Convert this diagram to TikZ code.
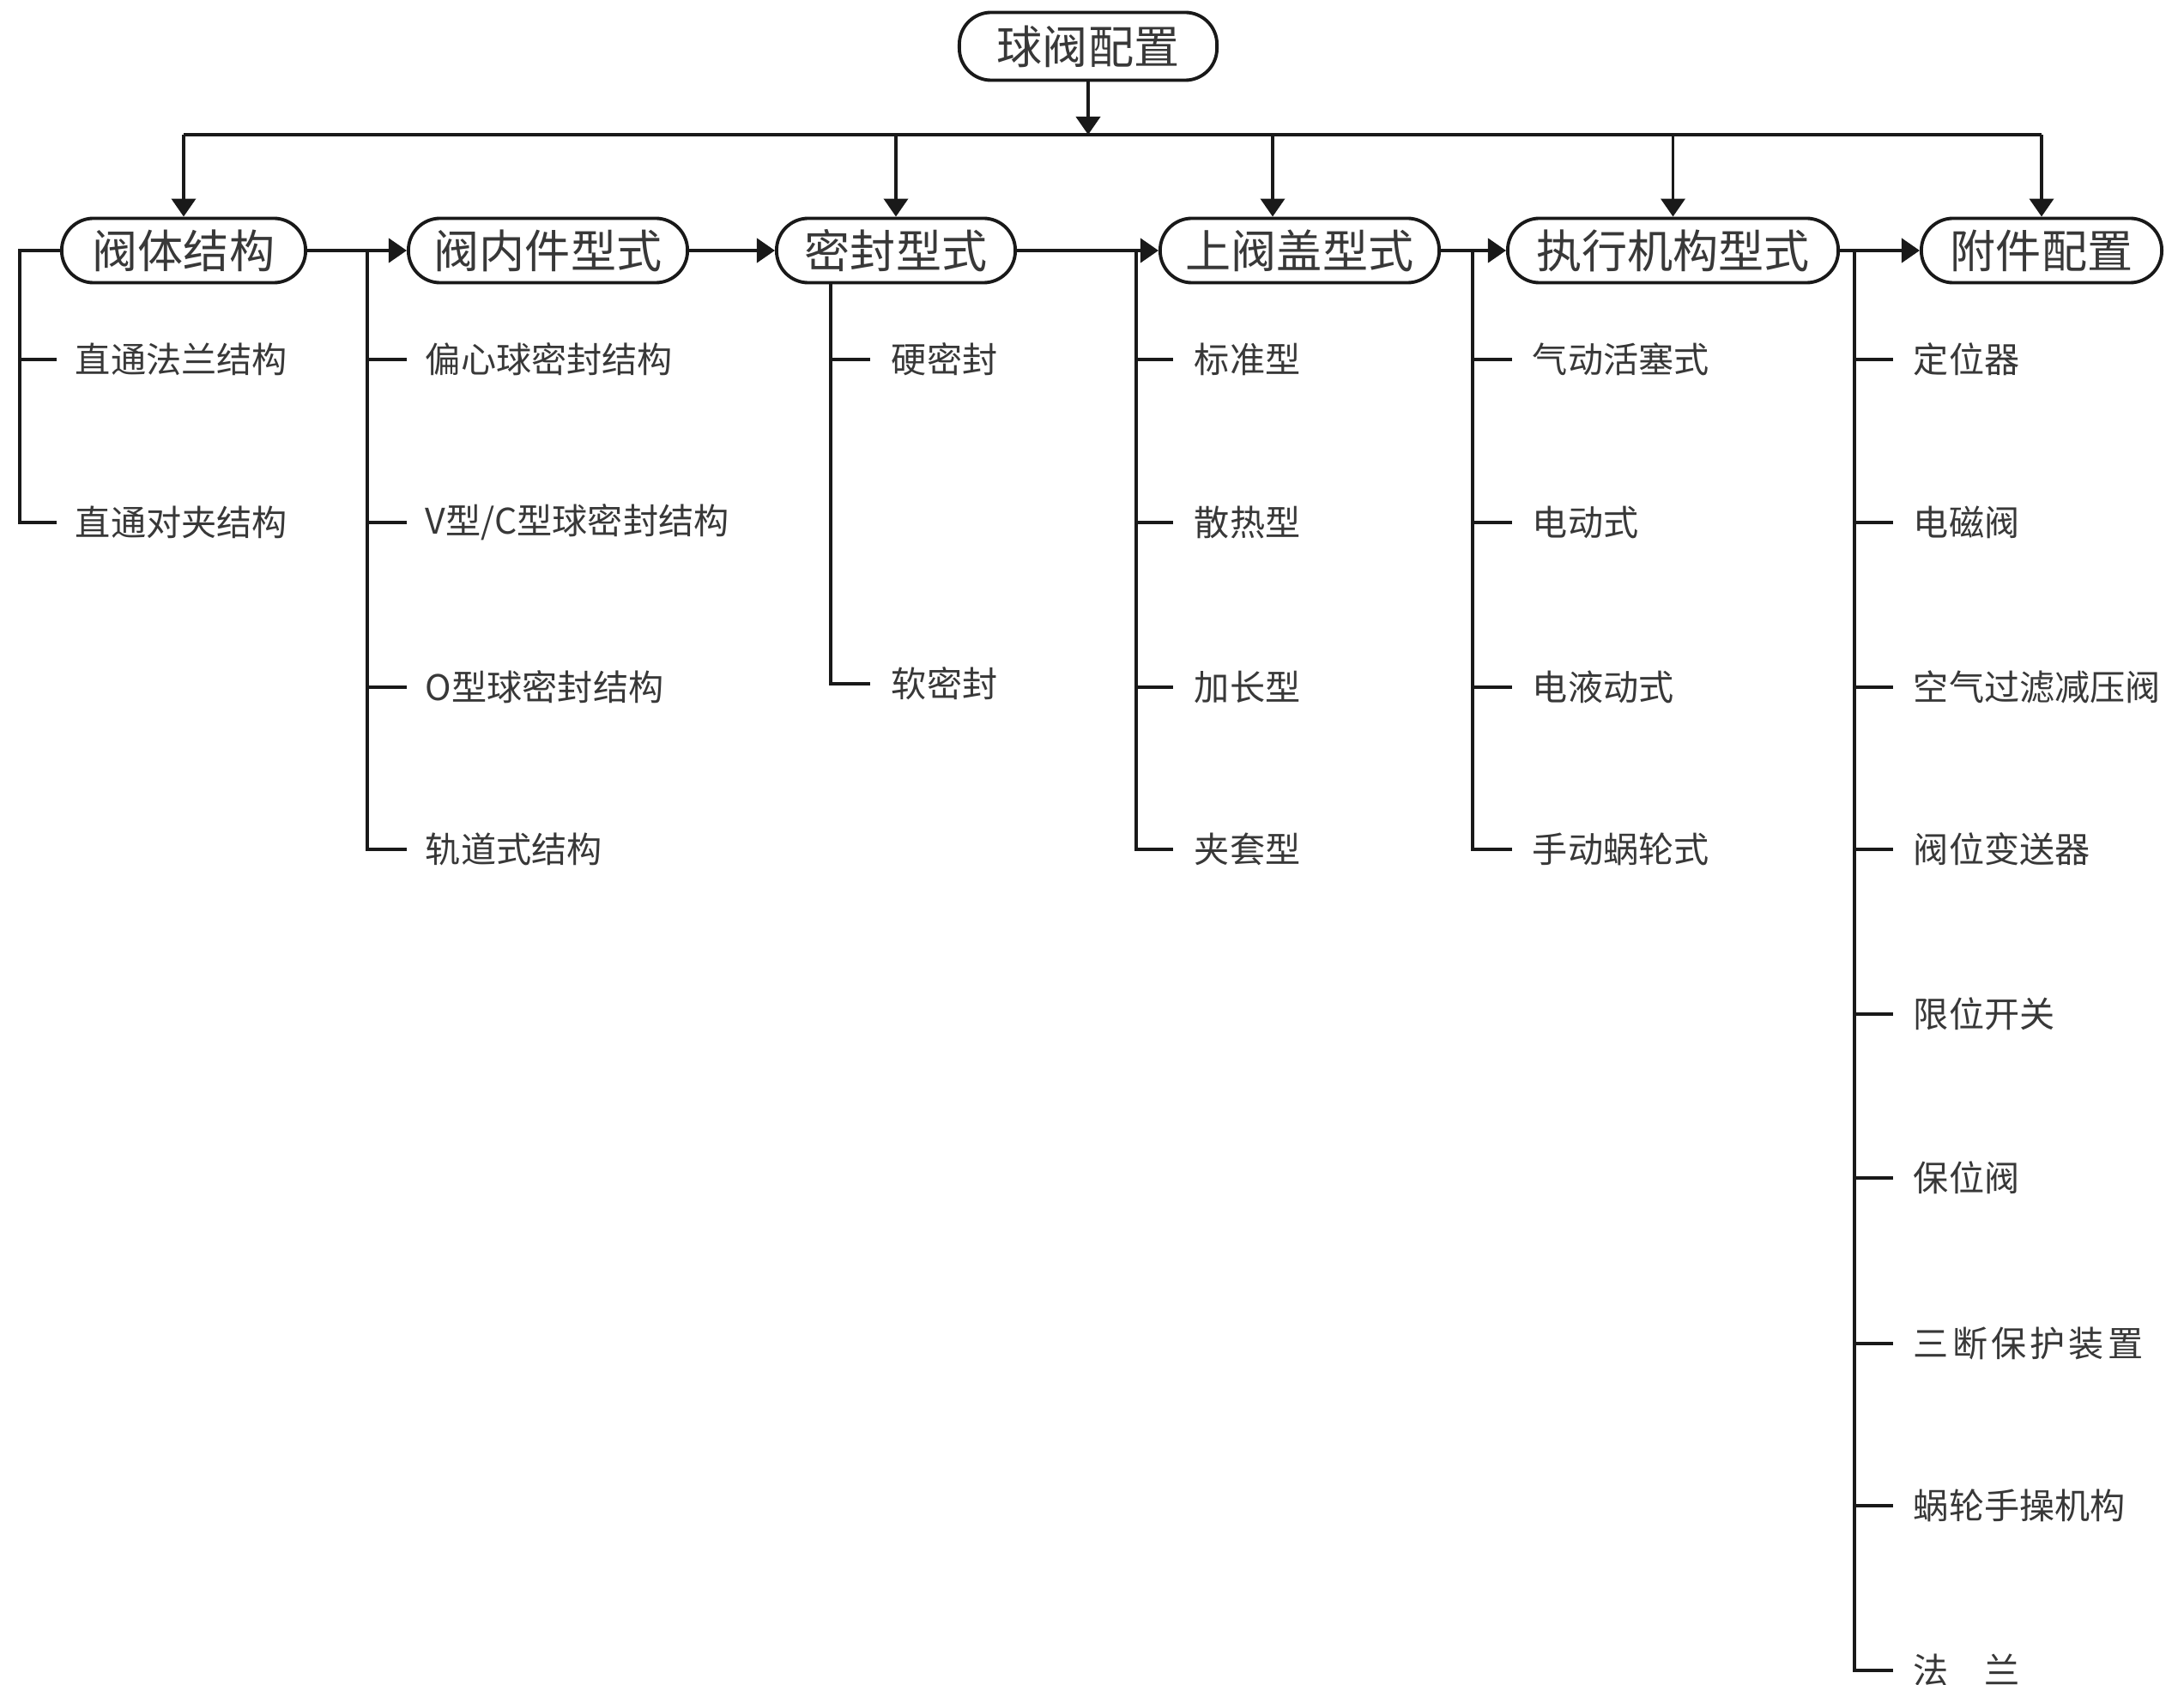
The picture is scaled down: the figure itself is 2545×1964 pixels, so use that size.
\documentclass[tikz,border=0pt]{standalone}
\usepackage{fontspec}
\newfontfamily\cjk{Noto Sans CJK SC}
\usetikzlibrary{arrows.meta}
\begin{document}
\begin{tikzpicture}[x=0.01cm,y=-0.01cm,
  line width=1.1pt,
  every node/.style={text=black!78},
  pill/.style={draw=black!90, rounded corners=0.37cm, minimum height=0.75cm, inner sep=0pt,
    font=\cjk\fontsize{15.1pt}{18pt}\selectfont},
  leaf/.style={anchor=west, inner sep=0pt, font=\cjk\fontsize{11.7pt}{14pt}\selectfont},
  con/.style={draw=black!90},
  arr/.style={con, -{Triangle[length=0.21cm,width=0.28cm]}}]

\useasboundingbox (0,0) rectangle (2545,1964);
\fill[white] (0,0) rectangle (2545,1964);

% top level
\node[pill, minimum width=3.0cm, minimum height=0.79cm] (root) at (1268,54) {球阀配置};
\node[pill, minimum width=2.84cm] (a) at (214,292) {阀体结构};
\node[pill, minimum width=3.25cm] (b) at (638.5,292) {阀内件型式};
\node[pill, minimum width=2.78cm] (c) at (1044,292) {密封型式};
\node[pill, minimum width=3.25cm] (d) at (1514.5,292) {上阀盖型式};
\node[pill, minimum width=3.85cm] (e) at (1949.5,292) {执行机构型式};
\node[pill, minimum width=2.80cm] (f) at (2379,292) {附件配置};

% bus
\coordinate (busL) at (214,157);
\coordinate (busR) at (2379,157);
\coordinate (dtop) at (1483,157);
\draw[con] (busL) -- (busR);
\draw[arr] (root.south) -- (root.south |- busL);
\draw[arr] (busL) -- (a.north);
\draw[arr] (c.north |- busL) -- (c.north);
\draw[arr] (dtop) -- (dtop |- d.north);
\draw[arr] (e.north |- busL) -- (e.north);
\draw[arr] (busR) -- (f.north);

% chain
\draw[arr] (a.east) -- (b.west);
\draw[arr] (b.east) -- (c.west);
\draw[arr] (c.east) -- (d.west);
\draw[arr] (d.east) -- (e.west);
\draw[arr] (e.east) -- (f.west);

% leaves
\node[leaf] (a1) at (86,419) {直通法兰结构};
\node[leaf] (a2) at (86,609) {直通对夹结构};

\node[leaf] (b1) at (494,419) {偏心球密封结构};
\node[leaf] (b2) at (494,609) {V型/C型球密封结构};
\node[leaf] (b3) at (494,801) {O型球密封结构};
\node[leaf] (b4) at (494,990) {轨道式结构};

\node[leaf] (c1) at (1037,419) {硬密封};
\node[leaf] (c2) at (1037,797) {软密封};

\node[leaf] (d1) at (1390,419) {标准型};
\node[leaf] (d2) at (1390,609) {散热型};
\node[leaf] (d3) at (1390,801) {加长型};
\node[leaf] (d4) at (1390,990) {夹套型};

\node[leaf] (e1) at (1784,419) {气动活塞式};
\node[leaf] (e2) at (1784,609) {电动式};
\node[leaf] (e3) at (1784,801) {电液动式};
\node[leaf] (e4) at (1784,990) {手动蜗轮式};

\node[leaf] (f1) at (2228,419) {定位器};
\node[leaf] (f2) at (2228,609) {电磁阀};
\node[leaf] (f3) at (2228,801) {空气过滤减压阀};
\node[leaf] (f4) at (2228,990) {阀位变送器};
\node[leaf] (f5) at (2228,1182) {限位开关};
\node[leaf] (f6) at (2228,1373) {保位阀};
\node[leaf] (f7) at (2228,1566) {\addfontfeature{LetterSpace=10}三断保护装置};
\node[leaf] (f8) at (2228,1755) {蜗轮手操机构};
\node[leaf] (f9) at (2228,1947) {法\hspace{1em}兰};

% group 1
\coordinate (g1) at (23,292);
\draw[con] (a.west) -- (g1) |- ([xshift=-0.2cm]a2.west);
\draw[con] (g1 |- a1) -- ([xshift=-0.2cm]a1.west);

% group 2
\coordinate (g2) at (428,292);
\draw[con] (g2) |- ([xshift=-0.2cm]b4.west);
\foreach \n in {b1,b2,b3} \draw[con] (g2 |- \n) -- ([xshift=-0.2cm]\n.west);

% group 3
\coordinate (g3) at (968,330);
\draw[con] (g3) |- ([xshift=-0.23cm]c2.west);
\draw[con] (g3 |- c1) -- ([xshift=-0.23cm]c1.west);

% group 4
\coordinate (g4) at (1324,292);
\draw[con] (g4) |- ([xshift=-0.23cm]d4.west);
\foreach \n in {d1,d2,d3} \draw[con] (g4 |- \n) -- ([xshift=-0.23cm]\n.west);

% group 5
\coordinate (g5) at (1716,292);
\draw[con] (g5) |- ([xshift=-0.22cm]e4.west);
\foreach \n in {e1,e2,e3} \draw[con] (g5 |- \n) -- ([xshift=-0.22cm]\n.west);

% group 6
\coordinate (g6) at (2161,292);
\draw[con] (g6) |- ([xshift=-0.22cm]f9.west);
\foreach \n in {f1,f2,f3,f4,f5,f6,f7,f8} \draw[con] (g6 |- \n) -- ([xshift=-0.22cm]\n.west);

\end{tikzpicture}
\end{document}
